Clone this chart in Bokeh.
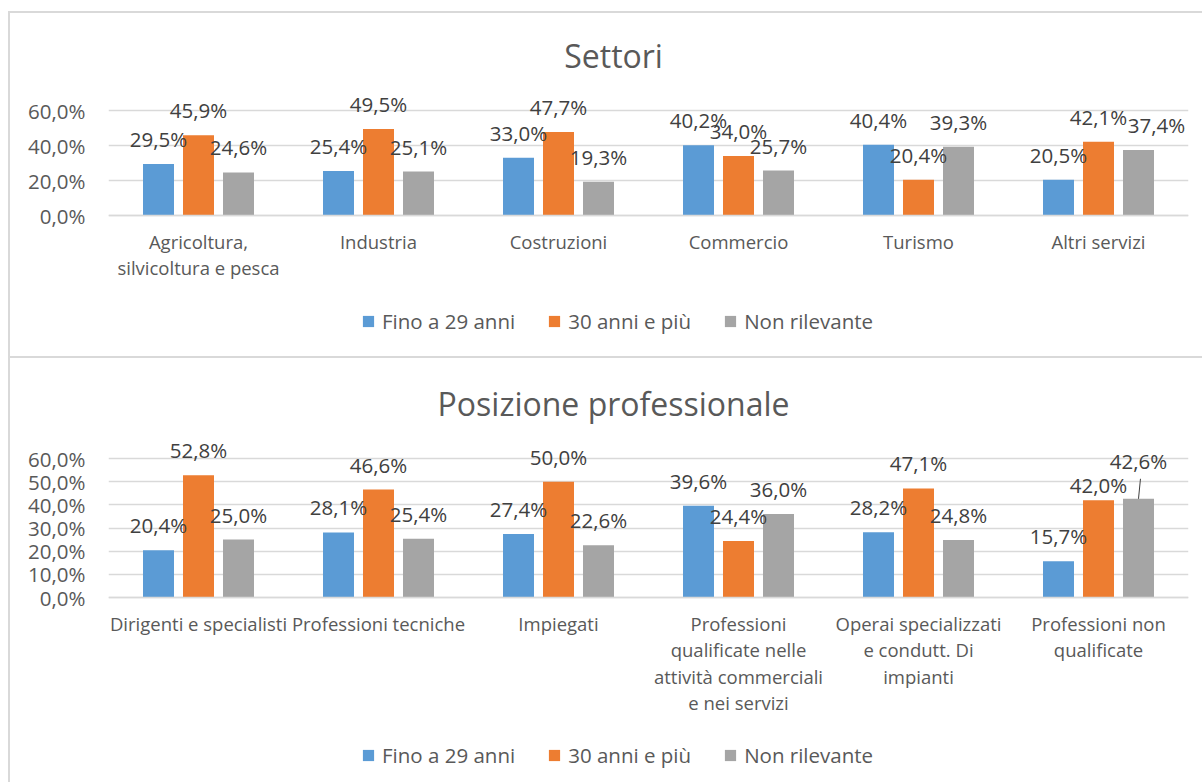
from bokeh.plotting import figure
from bokeh.models import (FactorRange, Range1d, ColumnDataSource, LabelSet, Label, Legend,
                          LegendItem, FixedTicker, CustomJSTickFormatter, Div, Spacer)
from bokeh.layouts import column, row
from bokeh.transform import dodge
from bokeh.core.properties import value
from bokeh.embed import file_html
from bokeh.resources import INLINE

# ---------------- data ----------------
series_names = ["Fino a 29 anni", "30 anni e più", "Non rilevante"]
series_colors = ["#5B9BD5", "#ED7D31", "#A5A5A5"]

settori_title = "Settori"
settori_cats = ["Agricoltura,\nsilvicoltura e pesca", "Industria", "Costruzioni",
                "Commercio", "Turismo", "Altri servizi"]
settori_fino29 = [29.5, 25.4, 33.0, 40.2, 40.4, 20.5]
settori_30piu = [45.9, 49.5, 47.7, 34.0, 20.4, 42.1]
settori_nonril = [24.6, 25.1, 19.3, 25.7, 39.3, 37.4]
settori_ticks = [0, 20, 40, 60]

pos_title = "Posizione professionale"
pos_cats = ["Dirigenti e specialisti", "Professioni tecniche", "Impiegati",
            "Professioni\nqualificate nelle\nattività commerciali\ne nei servizi",
            "Operai specializzati\ne condutt. Di\nimpianti",
            "Professioni non\nqualificate"]
pos_fino29 = [20.4, 28.1, 27.4, 39.6, 28.2, 15.7]
pos_30piu = [52.8, 46.6, 50.0, 24.4, 47.1, 42.0]
pos_nonril = [25.0, 25.4, 22.6, 36.0, 24.8, 42.6]
pos_ticks = [0, 10, 20, 30, 40, 50, 60]

# ---------------- styles ----------------
FONT = "Open Sans"
TXT = "#595959"
LBL = "#404040"
GRID = "#D9D9D9"
W = 1192
FRAME_W = 1080
LEFT = 98
BAR_OFF = [-0.2222, 0.0, 0.2222]
BAR_W = 0.1722
LABEL_UP = 25  # px above bar top
TITLE_X = 2.806  # title centre, in category units


def fmt(v):
    return ("%.1f" % v).replace(".", ",") + "%"


def make_chart(title, cats, vals, ticks, H, top, plot_h, nudges, legend_y, leader=None):
    ymax = 60.0
    ppu = plot_h / ymax
    y_end = ymax + top / ppu
    y_start = -(H - top - plot_h) / ppu
    p = figure(x_range=FactorRange(*cats), y_range=Range1d(y_start, y_end), width=W, height=H,
               output_backend="svg", toolbar_location=None,
               min_border_left=LEFT, min_border_right=W - LEFT - FRAME_W,
               min_border_top=0, min_border_bottom=0)
    p.outline_line_color = None
    p.xgrid.grid_line_color = None
    p.ygrid.grid_line_color = GRID
    p.ygrid.grid_line_width = 1.5
    p.ygrid.ticker = FixedTicker(ticks=ticks)

    p.yaxis.ticker = FixedTicker(ticks=ticks)
    p.yaxis.formatter = CustomJSTickFormatter(code="return tick.toFixed(1).replace('.', ',') + '%';")
    p.yaxis.axis_line_color = None
    p.yaxis.major_tick_line_color = None
    p.yaxis.minor_tick_line_color = None
    p.yaxis.major_tick_out = 0
    p.yaxis.major_tick_in = 0
    p.yaxis.major_label_standoff = 23
    p.yaxis.major_label_text_font = FONT
    p.yaxis.major_label_text_font_size = "20.5px"
    p.yaxis.major_label_text_color = TXT

    p.xaxis.fixed_location = 0
    p.xaxis.axis_line_color = GRID
    p.xaxis.axis_line_width = 1.5
    p.xaxis.major_tick_line_color = None
    p.xaxis.minor_tick_line_color = None
    p.xaxis.major_tick_out = 0
    p.xaxis.major_tick_in = 0
    p.xaxis.major_label_standoff = 13
    p.xaxis.major_label_text_font = FONT
    p.xaxis.major_label_text_font_size = "18.5px"
    p.xaxis.major_label_text_color = TXT
    p.xaxis.major_label_text_line_height = 1.06

    src = ColumnDataSource(dict(cat=cats, s0=vals[0], s1=vals[1], s2=vals[2]))
    items = []
    for i in range(3):
        r = p.vbar(x=dodge("cat", BAR_OFF[i], range=p.x_range), top="s%d" % i, width=BAR_W,
                   color=series_colors[i], line_color=None, source=src)
        items.append(LegendItem(label=series_names[i], renderers=[r]))
        dx = [nudges.get((i, j), (0, 0))[0] for j in range(len(cats))]
        dy = [LABEL_UP + nudges.get((i, j), (0, 0))[1] for j in range(len(cats))]
        lsrc = ColumnDataSource(dict(cat=cats, y=vals[i], text=[fmt(v) for v in vals[i]],
                                     dx=dx, dy=dy))
        p.add_layout(LabelSet(x=dodge("cat", BAR_OFF[i], range=p.x_range), y="y", text="text",
                              x_offset="dx", y_offset="dy", source=lsrc,
                              text_align="center", text_baseline="middle",
                              text_font=value(FONT), text_font_size="20.5px", text_color=LBL))

    if leader is not None:
        si, cj, length = leader
        v = vals[si][cj]
        lsrc = ColumnDataSource(dict(cat=[cats[cj]], y0=[v], y1=[v + length / ppu]))
        p.segment(x0=dodge("cat", BAR_OFF[si], range=p.x_range), y0="y0",
                  x1=dodge("cat", BAR_OFF[si] + 0.011, range=p.x_range), y1="y1",
                  line_color="#404040", line_width=1, source=lsrc)

    p.add_layout(Label(x=TITLE_X, y=ymax, text=title, y_offset=55, text_align="center",
                       text_baseline="middle", text_font=FONT, text_font_size="32px",
                       text_color=TXT))

    legend = Legend(items=items, orientation="horizontal", location=(253, legend_y),
                    label_text_font=FONT, label_text_font_size="20.5px", label_text_color=TXT,
                    glyph_width=14, glyph_height=14, label_standoff=7, spacing=32,
                    padding=0, margin=0, border_line_color=None, background_fill_alpha=0)
    p.add_layout(legend, "center")
    return p


H1, H2 = 343, 424
p1 = make_chart(settori_title, settori_cats, [settori_fino29, settori_30piu, settori_nonril],
                settori_ticks, H1, 97, 105, {(2, 5): (18, 0)}, 21)
p2 = make_chart(pos_title, pos_cats, [pos_fino29, pos_30piu, pos_nonril],
                pos_ticks, H2, 100, 139, {(1, 5): (0, -10), (2, 5): (0, 13)}, 13,
                leader=(2, 5, 20))


def bar(w, h):
    return Div(text="", width=w, height=h, margin=0, styles={"background-color": GRID})


inner = column(Spacer(width=W + 2, height=11, margin=0),
               bar(W + 2, 2),
               row(bar(2, H1), p1, margin=0),
               bar(W + 2, 2),
               row(bar(2, H2), p2, margin=0),
               margin=0)
layout = row(Spacer(width=8, height=10, margin=0), inner, margin=0)

open("out.html", "w").write(file_html(layout, INLINE))
